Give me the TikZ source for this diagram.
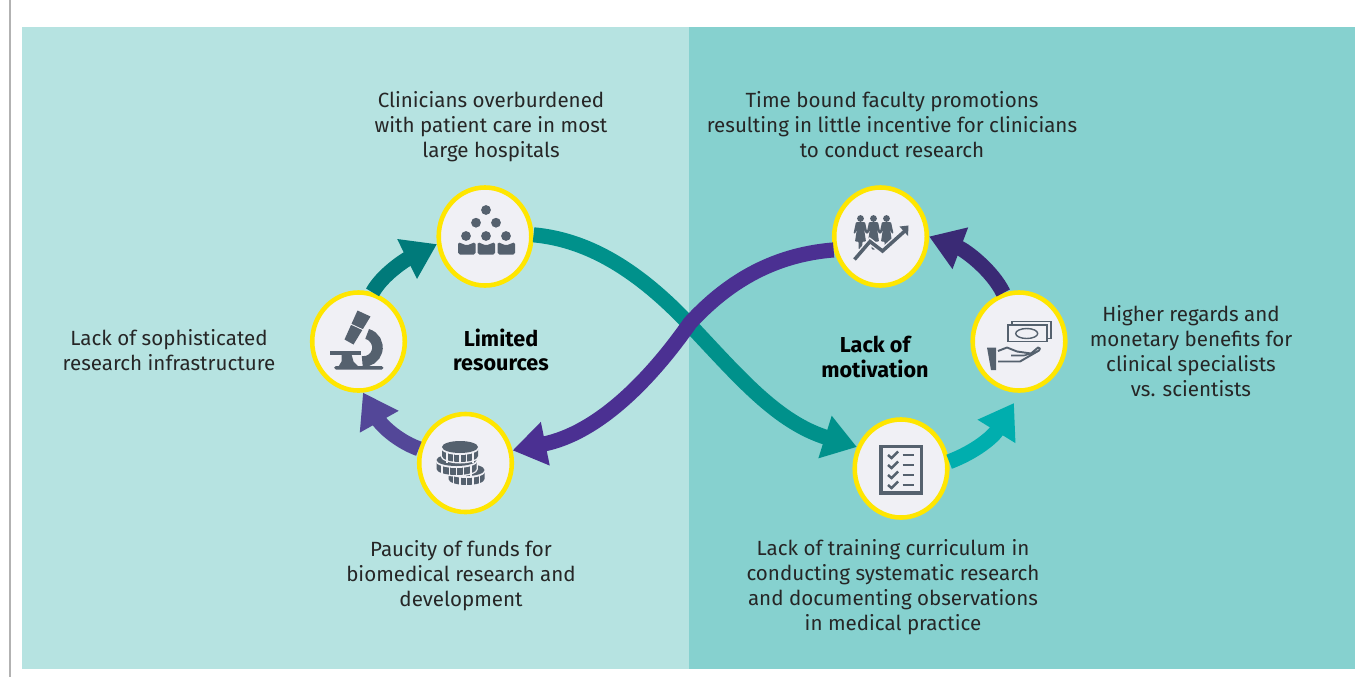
\documentclass[tikz,border=0pt]{standalone}
\usepackage{fontspec}
\setmainfont{Fira Sans}
\usetikzlibrary{arrows.meta,shapes.geometric}
\definecolor{panelL}{HTML}{B6E3E1}
\definecolor{panelR}{HTML}{86D1CF}
\definecolor{ring}{HTML}{FFE600}
\definecolor{disc}{HTML}{F0F0F5}
\definecolor{icon}{HTML}{55616E}
\definecolor{tealA}{HTML}{00918B}
\definecolor{tealB}{HTML}{007A7A}
\definecolor{tealC}{HTML}{00AEAE}
\definecolor{purpA}{HTML}{4B3092}
\definecolor{purpB}{HTML}{534798}
\definecolor{purpC}{HTML}{3A2A75}

\begin{document}
\begin{tikzpicture}[x=0.02cm,y=-0.02cm]
\tikzstyle{spot}=[draw=ring,fill=disc,ellipse,line width=2.6pt,inner sep=0pt,minimum width=52.7pt,minimum height=55.8pt];
\tikzstyle{txt}=[align=center,text=black!85,inner sep=0pt,font=\fontsize{11.7}{14.25}\selectfont];
\tikzstyle{head}=[align=center,text=black,inner sep=0pt,font=\fontsize{12.3}{14.1}\selectfont\bfseries];
\tikzstyle{dir}=[-{Triangle[length=19pt,width=24pt]},line width=8.6pt];
\useasboundingbox (0,0) rectangle (1355,677);
\fill [panelL] (22,27) rectangle (689,669);
\fill [panelR] (689,27) rectangle (1355,669);
\draw [line width=1pt,color=black!30] (10,0) -- (10,677);
\node [spot] (v1) at (485,236.5) {};
\node [spot] (v2) at (358.5,341.5) {};
\node [spot] (v3) at (465.5,463) {};
\node [spot] (v4) at (880.5,236.5) {};
\node [spot] (v5) at (1019,341.5) {};
\node [spot] (v6) at (901,468.5) {};
\coordinate (c5) at (1014,403);
\draw [dir,tealB] (v2.74) .. controls (382,275) and (405,260) .. (v1.189);
\draw [dir,purpB] (v3.163) .. controls (395,440) and (380,423) .. (v2.275);
\draw [dir,purpC] (v5.108) .. controls (992,270) and (965,250) .. (v4.0);
\draw [dir,tealC] (v6.8) .. controls (975,452) and (993,437) .. (c5);
\draw [dir,tealA] (v1.2) .. controls (590,240) and (640,272) .. (690,325) .. controls (740,378) and (777,422) .. (v6.154);
\draw [dir,purpA] (v4.196) .. controls (770,255) and (725,285) .. (690,323) .. controls (650,380) and (598,433) .. (v3.15);
\begin{scope}[shift={(v1)},icon]
\foreach \hx/\hy in {1/-26.5,-9/-13.8,11/-13.8,-19/-0.5,1/-0.5,21/-0.5}
  \fill (\hx,\hy) circle [radius=4.9];
\foreach \bx in {-27,-7.5,12.5}
  \fill [rounded corners=1pt] (\bx,5.5) -- (\bx+8.7,9) -- (\bx+17.5,5.5) -- (\bx+17.5,18) -- (\bx,18) -- cycle;
\end{scope}
\begin{scope}[shift={(v2)},icon]
\fill (-1,-31) -- (12,-25) -- (-5,3) -- (-14,-2) -- cycle;
\draw [disc,line width=0.5pt] (-9,-18) -- (5,-11.5);
\draw [line width=6pt] (5,6) ++(-75:14) arc [start angle=-75,end angle=95,radius=14];
\fill (-28.5,9) rectangle (2,13);
\fill (-17,13) -- (-7,13) -- (-5,20) -- (0,25) -- (-20,25) -- (-17,20) -- cycle;
\fill [rounded corners=1pt] (-24.5,24.5) rectangle (25,28);
\end{scope}
\begin{scope}[shift={(v3)},icon]
\foreach \cx/\cy/\rx in {1/7/18,-9/-3/20,-5.5/-16/18} {
  \fill [disc] (\cx,\cy) ellipse [x radius=\rx+1.5,y radius=7.5];
  \fill [disc] (\cx-\rx-1.5,\cy) rectangle (\cx+\rx+1.5,\cy+9);
  \fill [disc] (\cx,\cy+9) ellipse [x radius=\rx+1.5,y radius=7.5];
  \fill (\cx-\rx,\cy+2) -- ++(0,7) arc [start angle=180,end angle=0,x radius=\rx,y radius=6] -- ++(0,-7) -- cycle;
  \foreach \tk in {-0.72,-0.36,0,0.36,0.72}
    \draw [disc,line width=0.7pt] (\cx+\tk*\rx,\cy+6) -- ++(0,10);
  \fill [disc] (\cx,\cy+1) ellipse [x radius=\rx+1,y radius=7];
  \fill (\cx,\cy) ellipse [x radius=\rx,y radius=6];
}
\end{scope}
\begin{scope}[shift={(v4)},icon]
\foreach \px in {-20,-7,6} {
  \fill (\px,-18) circle [radius=3.4];
  \fill [rounded corners=0.5pt] (\px-4.5,-14.5) -- (\px+4.5,-14.5) -- (\px+7,-3) -- (\px+5.2,-3) -- (\px+3.5,-8) -- (\px+5.5,5) -- (\px+2,5) -- (\px+1.8,13) -- (\px-1.8,13) -- (\px-2,5) -- (\px-5.5,5) -- (\px-3.5,-8) -- (\px-5.2,-3) -- (\px-7,-3) -- cycle;
}
\draw [disc,line width=3.6pt,line join=miter] (-26,23) -- (-10.5,5) -- (2,14.5) -- (26,-7);
\draw [line width=2pt,line join=miter] (-26,23) -- (-10.5,5) -- (2,14.5) -- (26,-7);
\fill (19,-10) -- (28,-11) -- (27.5,-0.5) -- cycle;
\end{scope}
\begin{scope}[shift={(v5)}]
\draw [icon,line width=1.1pt] (-7,-20) rectangle (32,-3);
\draw [icon,fill=disc,line width=1.1pt] (-11,-16.5) rectangle (28,0);
\draw [icon,line width=0.8pt] (7.7,-8) ellipse [x radius=11,y radius=5];
\fill [icon] (-32,6) -- (-23,6) -- (-23,28.5) -- (-28,28.5) -- cycle;
\draw [icon,line width=1.1pt,line join=round] (-21,9.5) -- (-12,6) -- (-2,10) -- (12,12) -- (19,6) -- (21,7) -- (20,9) -- (1,20) -- (-21,20);
\draw [icon,line width=0.9pt] (-8,14) -- (5,14) -- (12,12);
\end{scope}
\begin{scope}[shift={(v6)},icon]
\draw [line width=2pt] (-20,-22.2) rectangle (20.3,24.7);
\foreach \ry in {-13.5,-3.5,6.5,16.5} {
  \draw [line width=1.4pt] (-13,\ry) -- (-9.5,\ry+3) -- (-3,\ry-3.5);
  \draw [line width=1.6pt] (1.7,\ry) -- (13.3,\ry);
}
\end{scope}
\node [txt] (l1) at (491,127) {Clinicians overburdened\\with patient care in most\\large hospitals};
\node [txt] (l2) at (169,350) {Lack of sophisticated\\research infrastructure};
\node [txt] (l3) at (461,576) {Paucity of funds for\\biomedical research and\\development};
\node [txt] (l4) at (892,125) {Time bound faculty promotions\\resulting in little incentive for clinicians\\to conduct research};
\node [txt] (l5) at (1191,351.5) {Higher regards and\\monetary benefits for\\clinical specialists\\vs. scientists};
\node [txt] (l6) at (893,587.5) {Lack of training curriculum in\\conducting systematic research\\and documenting observations\\in medical practice};
\node [head] (h1) at (501,350) {Limited\\resources};
\node [head] (h2) at (875,357) {Lack of\\motivation};
\end{tikzpicture}
\end{document}
